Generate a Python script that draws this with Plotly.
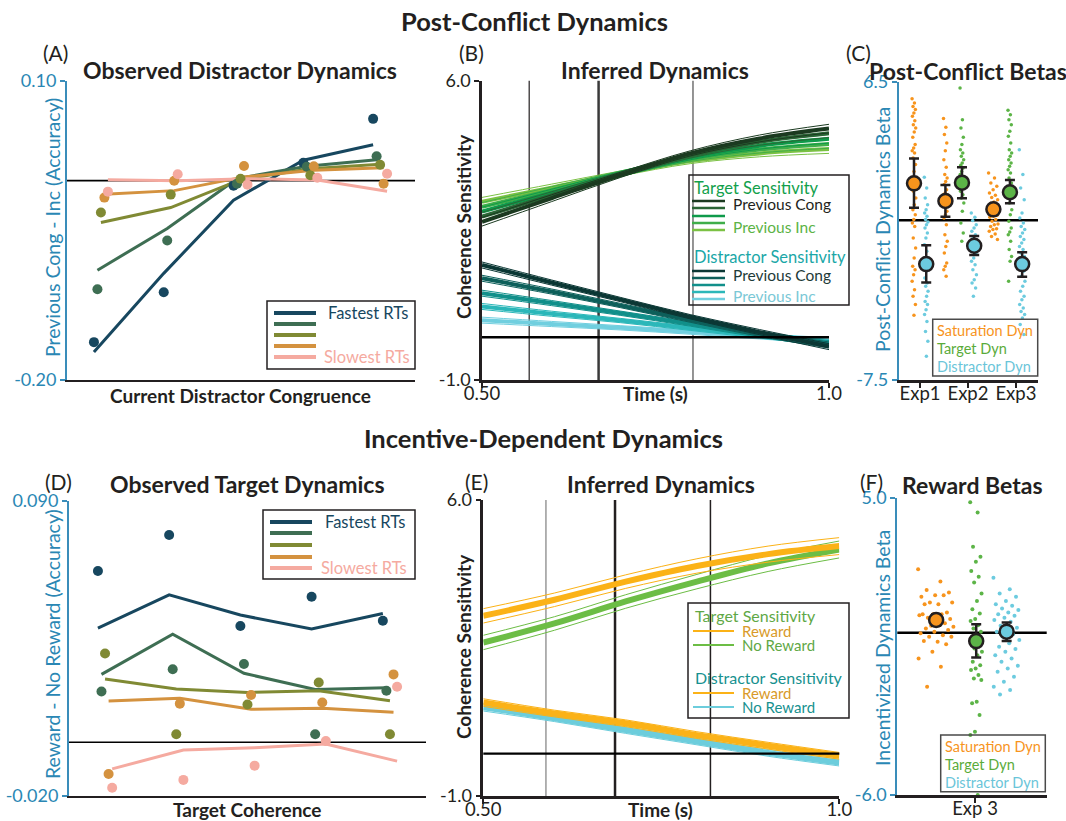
import plotly.graph_objects as go

W, H = 1066, 821
FONT = "Lato"
INK = "#231f20"
AXIS_BLUE = "#3a8dba"
TICK_BLUE = "#2a87b4"

# ---------------- data ----------------
# (A) observed distractor dynamics, five RT bins x five congruence levels
CONG_LEVELS = [1, 2, 3, 4, 5]
RT_LABELS = ["Fastest RTs", "", "", "", "Slowest RTs"]
A_DOTS = [
    [-0.162, -0.112, -0.005, 0.018, 0.062],
    [-0.109, -0.060, -0.003, 0.014, 0.0245],
    [-0.032, -0.014, 0.002, 0.0055, 0.016],
    [-0.017, 0.000, 0.0148, 0.0145, -0.003],
    [-0.011, 0.0065, -0.004, 0.003, 0.007],
]
A_FITS = [
    [-0.172, -0.093, -0.0196, 0.0205, 0.036],
    [-0.0898, -0.048, 0.002, 0.0145, 0.021],
    [-0.042, -0.027, 0.001, 0.012, 0.0165],
    [-0.0136, -0.010, 0.0038, 0.0105, 0.013],
    [0.001, 0.000, 0.002, 0.0007, -0.0106],
]

# (B) inferred post-conflict dynamics
TIME = [0.5, 0.6, 0.7, 0.8, 0.9, 1.0]
B_TARGET = [
    [2.70, 3.25, 3.80, 4.30, 4.65, 4.88],
    [2.82, 3.32, 3.81, 4.25, 4.57, 4.77],
    [2.94, 3.38, 3.82, 4.21, 4.48, 4.64],
    [3.05, 3.44, 3.83, 4.17, 4.39, 4.52],
    [3.17, 3.50, 3.83, 4.12, 4.30, 4.40],
]
B_DISTRACTOR = [
    [1.69, 1.28, 0.88, 0.48, 0.12, -0.22],
    [1.38, 1.07, 0.74, 0.40, 0.08, -0.18],
    [1.03, 0.80, 0.56, 0.31, 0.06, -0.15],
    [0.72, 0.55, 0.39, 0.21, 0.04, -0.12],
    [0.40, 0.31, 0.22, 0.12, 0.02, -0.08],
]
B_TARGET_CI = [0.10, 0.08, 0.06, 0.06, 0.08, 0.10]
B_DISTRACTOR_CI = [0.07, 0.06, 0.05, 0.05, 0.06, 0.07]
B_EPOCHS = [0.568, 0.668, 0.804]

# (C) post-conflict betas
EXPERIMENTS = ["Exp1", "Exp2", "Exp3"]
C_SAT_MEAN = [1.73, 0.90, 0.51]
C_SAT_LO = [0.59, 0.16, 0.29]
C_SAT_HI = [2.90, 1.65, 0.74]
C_TGT_MEAN = [None, 1.76, 1.31]
C_TGT_LO = [None, 1.03, 0.79]
C_TGT_HI = [None, 2.48, 1.89]
C_DIS_MEAN = [-2.06, -1.20, -2.06]
C_DIS_LO = [-2.92, -1.63, -2.65]
C_DIS_HI = [-1.17, -0.74, -1.51]

C_SAT_SUBJ = [
    [5.70, 5.50, 5.34, 5.19, 5.03, 4.88, 4.67, 4.48, 4.33, 4.14, 3.89, 3.55, 3.39,
     3.26, 3.15, 2.92, 2.61, 2.29, 1.98, 1.67, 1.36, 1.04, 0.73, 0.49, 0.26, 0.03,
     -0.13, -0.29, -0.83, -1.30, -1.77, -2.16, -2.32, -2.56, -2.87, -3.26, -3.57,
     -3.96, -4.46],
    [4.77, 4.36, 4.02, 3.62, 3.26, 2.84, 2.48, 2.14, 1.98, 1.82, 1.67, 1.43, 1.28,
     1.12, 0.96, 0.65, 0.42, 0.26, 0.10, -0.21, -0.68, -0.99, -1.23, -1.54, -2.01,
     -2.16, -2.32, -2.63],
    [2.22, 1.98, 1.75, 1.59, 1.43, 1.28, 1.17, 1.07, 0.96, 0.85, 0.76, 0.65, 0.54,
     0.49, 0.45, 0.34, 0.23, 0.18, 0.14, 0.03, -0.05, -0.18, -0.21, -0.29, -0.40,
     -0.44, -0.52, -0.65, -0.76, -0.91],
]
C_TGT_SUBJ = [
    [],
    [6.20, 4.72, 4.33, 3.89, 3.55, 3.31, 3.15, 3.00, 2.84, 2.68, 2.58, 2.45, 2.29,
     2.14, 1.98, 1.82, 1.67, 1.51, 1.36, 1.20, 1.04, 0.81, 0.42, -0.13, -0.60, -0.99],
    [5.16, 4.95, 4.72, 4.48, 4.17, 3.94, 3.62, 3.31, 3.15, 3.00, 2.84, 2.68, 2.53,
     2.37, 2.22, 1.98, 1.75, 1.51, 1.28, 1.04, 0.81, 0.49, 0.26, -0.05, -0.37,
     -0.55, -0.68, -0.99, -1.38, -1.70, -1.93, -2.87],
]
C_DIS_SUBJ = [
    [2.01, 1.51, 1.04, 0.73, 0.49, 0.34, 0.18, 0.03, -0.08, -0.21, -0.37, -0.60,
     -0.83, -1.15, -1.46, -1.85, -2.16, -2.40, -2.71, -2.95, -3.10, -3.34, -3.57,
     -3.81, -3.96, -4.20, -4.43, -4.75, -5.22, -5.68, -6.39],
    [0.34, 0.14, -0.02, -0.21, -0.37, -0.52, -0.68, -0.83, -0.99, -1.15, -1.38,
     -1.54, -1.77, -1.93, -2.09, -2.32, -2.56, -2.79, -2.95, -3.18, -3.57],
    [3.31, 2.14, 1.51, 0.96, 0.34, 0.10, -0.13, -0.29, -0.44, -0.60, -0.76, -0.91,
     -1.07, -1.23, -1.38, -1.54, -1.70, -1.93, -2.16, -2.40, -2.63, -2.87, -3.10,
     -3.34, -3.57, -3.73, -3.96, -4.12, -4.28, -4.43, -4.59, -4.90, -5.37],
]

# (D) observed target dynamics
COH_LEVELS = [1, 2, 3, 4, 5]
D_DOTS = [
    [0.0638, 0.0772, 0.0433, 0.0542, 0.0453],
    [0.0189, 0.0272, 0.0292, 0.0030, 0.0192],
    [0.0331, 0.0030, 0.0141, 0.0223, 0.0030],
    [-0.0118, 0.0144, 0.0176, 0.0148, 0.0253],
    [-0.0169, -0.0140, -0.0087, 0.0005, 0.0207],
]
D_FITS = [
    [0.0425, 0.0549, 0.0474, 0.0422, 0.0480],
    [0.0253, 0.0403, 0.0257, 0.0197, 0.0203],
    [0.0236, 0.0199, 0.0186, 0.0192, 0.0155],
    [0.0154, 0.0164, 0.0123, 0.0127, 0.0112],
    [-0.0099, -0.0029, -0.0020, -0.0006, -0.0070],
]

# (E) inferred incentive-dependent dynamics
E_TGT_REWARD = [3.26, 3.64, 4.07, 4.44, 4.72, 4.91]
E_TGT_NOREWARD = [2.63, 3.08, 3.60, 4.07, 4.50, 4.83]
E_DIS_REWARD = [1.21, 0.95, 0.72, 0.44, 0.19, -0.05]
E_DIS_NOREWARD = [1.10, 0.84, 0.56, 0.29, 0.02, -0.21]
E_TGT_CI = [0.17, 0.16, 0.16, 0.17, 0.19, 0.20]
E_DIS_CI = [0.09, 0.08, 0.08, 0.08, 0.08, 0.08]
E_EPOCHS = [0.588, 0.685, 0.819]

# (F) reward betas (Exp 3)
F_MEAN = [0.47, -0.31, 0.04]
F_LO = [0.26, -0.92, -0.31]
F_HI = [0.68, 0.31, 0.38]
F_SAT_SUBJ = [2.35, 1.89, 1.58, 1.49, 1.39, 1.33, 1.39, 1.12, 1.12, 1.05, 1.05, 0.75,
              0.68, 0.65, 0.68, 0.55, 0.51, 0.51, 0.68, 0.35, 0.26, 0.22, 0.28, 0.16,
              0.10, 0.04, -0.02, -0.09, -0.15, -0.15, -0.33, -0.31, -0.43, -0.70,
              -0.95, -1.26, -2.00]
F_TGT_SUBJ = [4.82, 4.45, 3.18, 2.81, 2.62, 2.28, 2.07, 1.86, 1.45, 1.17, 0.87, 0.71,
              0.51, 0.43, 0.28, 0.16, 0.04, -0.09, -0.21, -0.39, -0.58, -0.70, -0.83,
              -1.07, -1.20, -1.32, -1.38, -1.56, -1.69, -1.75, -2.55, -2.61, -3.04,
              -3.66, -3.78, -6.00]
F_DIS_SUBJ = [2.03, 1.61, 1.45, 1.33, 1.17, 1.05, 1.00, 0.90, 0.84, 0.75, 0.68, 0.63,
              0.55, 0.47, 0.41, 0.26, 0.18, 0.10, 0.04, -0.06, -0.15, -0.27, -0.39,
              -0.52, -0.60, -0.70, -0.83, -0.95, -1.07, -1.22, -1.32, -1.44, -1.63,
              -1.81, -2.00, -2.12, -2.28]

# ---------------- styling ----------------
RT_COLORS = ["#17475f", "#3e6e53", "#808a34", "#d4923f", "#f5aaa0"]
TGT_SHADES = ["#1b3a20", "#2a6535", "#0e9a4a", "#3fae49", "#7bc144"]
DIS_SHADES = ["#0b3734", "#0d5f5a", "#118f8a", "#2bb7b9", "#70cfdf"]
ORANGE, GREEN, LBLUE = "#f7941d", "#5cb447", "#6ccbdf"
GOLD, E_GREEN, E_BLUE = "#fbb217", "#6cbd45", "#6ccddc"
BIN_SHIFT = [-0.1, -0.05, 0.0, 0.05, 0.1]


def px(x):
    return x / W


def py(y):
    return 1 - y / H


def spread(n, half):
    # evenly scattered horizontal offsets (golden-ratio sequence) for strip dots
    return [((i * 0.6180339887) % 1.0 - 0.5) * 2 * half for i in range(n)]


fig = go.Figure()

# (A) and (D): dots + fitted lines per RT bin
for xa, ya, cats, dots, fits in [("x", "y", CONG_LEVELS, A_DOTS, A_FITS),
                                  ("x4", "y4", COH_LEVELS, D_DOTS, D_FITS)]:
    for k in range(5):
        xs = [c + BIN_SHIFT[k] for c in cats]
        fig.add_trace(go.Scatter(x=xs, y=fits[k], mode="lines", xaxis=xa, yaxis=ya,
                                 line=dict(color=RT_COLORS[k], width=3)))
    for k in range(5):
        xs = [c + BIN_SHIFT[k] for c in cats]
        fig.add_trace(go.Scatter(x=xs, y=dots[k], mode="markers", xaxis=xa, yaxis=ya,
                                 marker=dict(color=RT_COLORS[k], size=10), cliponaxis=False))


def band_curve(xa, ya, ys, ci, color, thick, thin=1.0):
    up = [v + c for v, c in zip(ys, ci)]
    lo = [v - c for v, c in zip(ys, ci)]
    for edge in (up, lo):
        fig.add_trace(go.Scatter(x=TIME, y=edge, mode="lines", xaxis=xa, yaxis=ya,
                                 line=dict(color=color, width=thin, shape="spline")))
    fig.add_trace(go.Scatter(x=TIME, y=ys, mode="lines", xaxis=xa, yaxis=ya,
                             line=dict(color=color, width=thick, shape="spline")))


# (B)
for k in range(4, -1, -1):
    band_curve("x2", "y2", B_TARGET[k], B_TARGET_CI, TGT_SHADES[k], 4)
for k in range(4, -1, -1):
    band_curve("x2", "y2", B_DISTRACTOR[k], B_DISTRACTOR_CI, DIS_SHADES[k], 4)

# (E)
band_curve("x5", "y5", E_TGT_NOREWARD, E_TGT_CI, E_GREEN, 6)
band_curve("x5", "y5", E_TGT_REWARD, E_TGT_CI, GOLD, 6)
band_curve("x5", "y5", E_DIS_NOREWARD, E_DIS_CI, E_BLUE, 6)
band_curve("x5", "y5", E_DIS_REWARD, E_DIS_CI, GOLD, 6)

# (C) subject strips and group means
SAT_X = [1 - 0.125, 2 - 0.47, 3 - 0.47]
TGT_X = [None, 2 - 0.125, 3 - 0.125]
DIS_X = [1 + 0.13, 2 + 0.13, 3 + 0.13]
STRIP_HALF = {"sat": [0.04, 0.04, 0.1], "tgt": [0.04, 0.04, 0.04], "dis": [0.04, 0.06, 0.06]}
for i in range(3):
    for subj, xc, col, key in [(C_SAT_SUBJ[i], SAT_X[i], ORANGE, "sat"),
                               (C_TGT_SUBJ[i], TGT_X[i], GREEN, "tgt"),
                               (C_DIS_SUBJ[i], DIS_X[i], LBLUE, "dis")]:
        if not subj:
            continue
        xs = [xc + o for o in spread(len(subj), STRIP_HALF[key][i])]
        fig.add_trace(go.Scatter(x=xs, y=subj, mode="markers", xaxis="x3", yaxis="y3",
                                 marker=dict(color=col, size=3.5), cliponaxis=False))


def mean_points(xa, ya, xs, means, lo, hi, col):
    pts = [(x, m, m - l, h - m) for x, m, l, h in zip(xs, means, lo, hi) if m is not None]
    fig.add_trace(go.Scatter(
        x=[p[0] for p in pts], y=[p[1] for p in pts], mode="markers", xaxis=xa, yaxis=ya,
        marker=dict(color=col, size=14, line=dict(color=INK, width=2.5)),
        error_y=dict(type="data", symmetric=False, array=[p[3] for p in pts],
                     arrayminus=[p[2] for p in pts], color=INK, thickness=2.5, width=5),
        cliponaxis=False))


mean_points("x3", "y3", SAT_X, C_SAT_MEAN, C_SAT_LO, C_SAT_HI, ORANGE)
mean_points("x3", "y3", TGT_X, C_TGT_MEAN, C_TGT_LO, C_TGT_HI, GREEN)
mean_points("x3", "y3", DIS_X, C_DIS_MEAN, C_DIS_LO, C_DIS_HI, LBLUE)

# (F)
F_X = [-0.97, 0.03, 0.79]
for subj, xc, col, half in [(F_SAT_SUBJ, F_X[0], ORANGE, 0.45),
                            (F_TGT_SUBJ, F_X[1], GREEN, 0.15),
                            (F_DIS_SUBJ, F_X[2], LBLUE, 0.33)]:
    xs = [xc + o for o in spread(len(subj), half)]
    fig.add_trace(go.Scatter(x=xs, y=subj, mode="markers", xaxis="x6", yaxis="y6",
                             marker=dict(color=col, size=4), cliponaxis=False))
for j, col in enumerate([ORANGE, GREEN, LBLUE]):
    mean_points("x6", "y6", [F_X[j]], [F_MEAN[j]], [F_LO[j]], [F_HI[j]], col)

# ---------------- axes ----------------
def xaxis(domain, rng, anchor, tickvals=None, ticktext=None, lw=2):
    return dict(domain=domain, range=rng, anchor=anchor, showgrid=False, zeroline=False,
                showline=True, linecolor=INK, linewidth=lw, automargin=False,
                tickvals=tickvals or [], ticktext=ticktext or [],
                ticks="outside" if tickvals else "", ticklen=5, tickwidth=2, tickcolor=INK,
                ticklabelstandoff=-10,
                tickfont=dict(family=FONT, size=18.5, color=INK), fixedrange=True)


def yaxis(domain, rng, anchor, tickvals, ticktext, color, tcolor, lw=2):
    return dict(domain=domain, range=rng, anchor=anchor, showgrid=False, zeroline=False,
                showline=True, linecolor=color, linewidth=lw, tickvals=tickvals,
                automargin=False, ticktext=ticktext, ticks="outside", ticklen=5,
                tickwidth=2, tickcolor=color,
                tickfont=dict(family=FONT, size=18, color=tcolor), fixedrange=True)


layout = dict(
    width=W, height=H, margin=dict(l=0, r=0, t=0, b=0, pad=0, autoexpand=False),
    showlegend=False,
    paper_bgcolor="white", plot_bgcolor="white", font=dict(family=FONT, color=INK),
    xaxis=xaxis([px(67), px(415)], [0.514, 5.5], "y"),
    yaxis=yaxis([py(380), py(81)], [-0.2, 0.1], "x", [-0.2, 0.1], ["-0.20", "0.10"],
                AXIS_BLUE, TICK_BLUE),
    xaxis2=xaxis([px(482), px(829)], [0.5, 1.0], "y2", [0.5, 1.0], ["0.50", "1.0"], lw=2.5),
    yaxis2=yaxis([py(380), py(80.7)], [-1, 6], "x2", [-1, 6], ["-1.0", "6.0"], INK, INK, lw=2.5),
    xaxis3=xaxis([px(898.7), px(1038)], [0.556, 3.46], "y3", [1, 2, 3], EXPERIMENTS, lw=2.5),
    yaxis3=yaxis([py(380), py(81.7)], [-7.5, 6.5], "x3", [-7.5, 6.5], ["-7.5", "6.5"],
                 AXIS_BLUE, TICK_BLUE),
    xaxis4=xaxis([px(69), px(426)], [0.494, 5.506], "y4"),
    yaxis4=yaxis([py(796), py(500.7)], [-0.02, 0.09], "x4", [-0.02, 0.09],
                 ["-0.020", "0.090"], AXIS_BLUE, TICK_BLUE),
    xaxis5=xaxis([px(483.3), px(839.3)], [0.5, 1.0], "y5", [0.5, 1.0], ["0.50", "1.0"], lw=2.5),
    yaxis5=yaxis([py(796), py(500)], [-1, 6], "x5", [-1, 6], ["-1.0", "6.0"], INK, INK, lw=2.5),
    xaxis6=xaxis([px(897.3), px(1046.7)], [-1.94, 1.79], "y6", [0], ["Exp 3"], lw=2.5),
    yaxis6=yaxis([py(795), py(497.5)], [-6, 5], "x6", [-6, 5], ["-6.0", "5.0"],
                 AXIS_BLUE, TICK_BLUE),
)

shapes = []
# zero reference lines
for xa, ya, lw, layer in [("x", "y", 1.8, "below"), ("x2", "y2", 2.5, "above"),
                          ("x3", "y3", 2.5, "below"), ("x4", "y4", 1.5, "below"),
                          ("x5", "y5", 2.2, "above"), ("x6", "y6", 2.5, "below")]:
    shapes.append(dict(type="line", xref=f"{xa} domain", yref=ya, x0=0, x1=1, y0=0, y1=0,
                       line=dict(color="black", width=lw), layer=layer))
# epoch markers
for xa, ya, epochs, widths, cols in [
        ("x2", "y2", B_EPOCHS, [1.2, 2.5, 1.6], [INK, "#3a3a3a", "#7a7a7a"]),
        ("x5", "y5", E_EPOCHS, [1.0, 2.5, 1.5], ["#666666", INK, INK])]:
    for t, w, c in zip(epochs, widths, cols):
        shapes.append(dict(type="line", xref=xa, yref=f"{ya} domain", x0=t, x1=t, y0=0, y1=1,
                           line=dict(color=c, width=w), layer="below"))

annotations = []


def text(s, x, y, size, color=INK, bold=False, xanchor="center", angle=0):
    annotations.append(dict(
        text=f"<b>{s}</b>" if bold else s, x=px(x), y=py(y), xref="paper", yref="paper",
        xanchor=xanchor, yanchor="middle", showarrow=False, textangle=angle,
        font=dict(family=FONT, size=size, color=color)))


def box(x0, y0, x1, y1, color=INK, width=1.5):
    shapes.append(dict(type="rect", xref="paper", yref="paper", x0=px(x0), x1=px(x1),
                       y0=py(y1), y1=py(y0), line=dict(color=color, width=width),
                       fillcolor="rgba(255,255,255,0)", layer="above"))


def swatch(x0, x1, y, color, width):
    shapes.append(dict(type="line", xref="paper", yref="paper", x0=px(x0), x1=px(x1),
                       y0=py(y), y1=py(y), line=dict(color=color, width=width), layer="above"))


# headings
text("Post-Conflict Dynamics", 534, 21, 25.5, bold=True)
text("Incentive-Dependent Dynamics", 543, 438, 25.5, bold=True)
for lab, x, y in [("(A)", 55, 52), ("(B)", 471, 52), ("(C)", 858, 52),
                  ("(D)", 58, 482), ("(E)", 476, 481), ("(F)", 871, 481)]:
    text(lab, x, y, 21)
text("Observed Distractor Dynamics", 240, 70, 23, bold=True)
text("Inferred Dynamics", 655, 70, 23, bold=True)
text("Post-Conflict Betas", 968, 71, 23, bold=True)
text("Observed Target Dynamics", 247, 484, 23, bold=True)
text("Inferred Dynamics", 661, 484, 23, bold=True)
text("Reward Betas", 972, 485, 23, bold=True)

# axis titles
text("Previous Cong - Inc (Accuracy)", 52, 228, 19.5, TICK_BLUE, angle=-90)
text("Current Distractor Congruence", 240, 395, 19, bold=True)
text("Coherence Sensitivity", 463, 227, 19, bold=True, angle=-90)
text("Time (s)", 655, 394, 19, bold=True)
text("Post-Conflict Dynamics Beta", 883, 230, 19.5, TICK_BLUE, angle=-90)
text("Reward - No Reward (Accuracy)", 52, 644, 19.5, TICK_BLUE, angle=-90)
text("Target Coherence", 247, 809, 19, bold=True)
text("Coherence Sensitivity", 463, 647, 19, bold=True, angle=-90)
text("Time (s)", 660, 809, 19, bold=True)
text("Incentivized Dynamics Beta", 882, 648, 19.5, TICK_BLUE, angle=-90)

# RT-bin keys for (A) and (D)
for (bx0, by0, bx1, by1), ys, tx in [((267, 301, 415, 369), [313, 324, 335, 346, 357], 324),
                                     ((263, 510, 415, 579), [522, 533, 545, 557, 568], 321)]:
    box(bx0, by0, bx1, by1)
    for k in range(5):
        swatch(bx0 + 7, bx0 + 49, ys[k], RT_COLORS[k], 4)
    text(RT_LABELS[0], tx + 2, ys[0], 16.5, RT_COLORS[0], xanchor="left")
    text(RT_LABELS[4], tx - 2, ys[4], 16.5, RT_COLORS[4], xanchor="left")

# key for (B)
box(689, 175, 849, 305)
text("Target Sensitivity", 692, 188, 16.5, "#12a04b", xanchor="left")
for k, y in enumerate([201, 208, 216, 223, 230]):
    swatch(692, 725, y, TGT_SHADES[k], 2.5)
text("Previous Cong", 731, 204, 15.5, INK, xanchor="left")
text("Previous Inc", 731, 227, 15.5, "#5cb346", xanchor="left")
text("Distractor Sensitivity", 692, 257, 16.5, "#1aa7a7", xanchor="left")
for k, y in enumerate([271, 278, 285, 292, 299]):
    swatch(692, 725, y, DIS_SHADES[k], 2.5)
text("Previous Cong", 731, 275, 15.5, "#1d3a38", xanchor="left")
text("Previous Inc", 731, 296, 15.5, "#7bc8d6", xanchor="left")

# key for (E)
box(688, 603, 849, 718)
text("Target Sensitivity", 693, 615, 16, "#5fa846", xanchor="left")
swatch(693, 734, 631, GOLD, 2)
swatch(693, 734, 645, E_GREEN, 2)
text("Reward", 740, 631, 15, "#d99a28", xanchor="left")
text("No Reward", 740, 645, 15, "#5fa846", xanchor="left")
text("Distractor Sensitivity", 693, 677, 16, "#17918f", xanchor="left")
swatch(693, 734, 693, GOLD, 2)
swatch(693, 734, 707, E_BLUE, 2)
text("Reward", 740, 693, 15, "#d99a28", xanchor="left")
text("No Reward", 740, 707, 15, "#17918f", xanchor="left")

# keys for (C) and (F)
for bx0, by0, bx1, by1 in [(932.7, 319.3, 1037.7, 376), (940.7, 735, 1045.3, 791.7)]:
    box(bx0, by0, bx1, by1, color="#4a4a4a")
    text("Saturation Dyn", bx0 + 2, by0 + 11, 14.5, ORANGE, xanchor="left")
    text("Target Dyn", bx0 + 2, by0 + 29, 14.5, "#5aab3a", xanchor="left")
    text("Distractor Dyn", bx0 + 2, by0 + 47, 14.5, "#6ac5d9", xanchor="left")

layout["shapes"] = shapes
layout["annotations"] = annotations
fig.update_layout(**layout)
fig.write_html("out.html")
